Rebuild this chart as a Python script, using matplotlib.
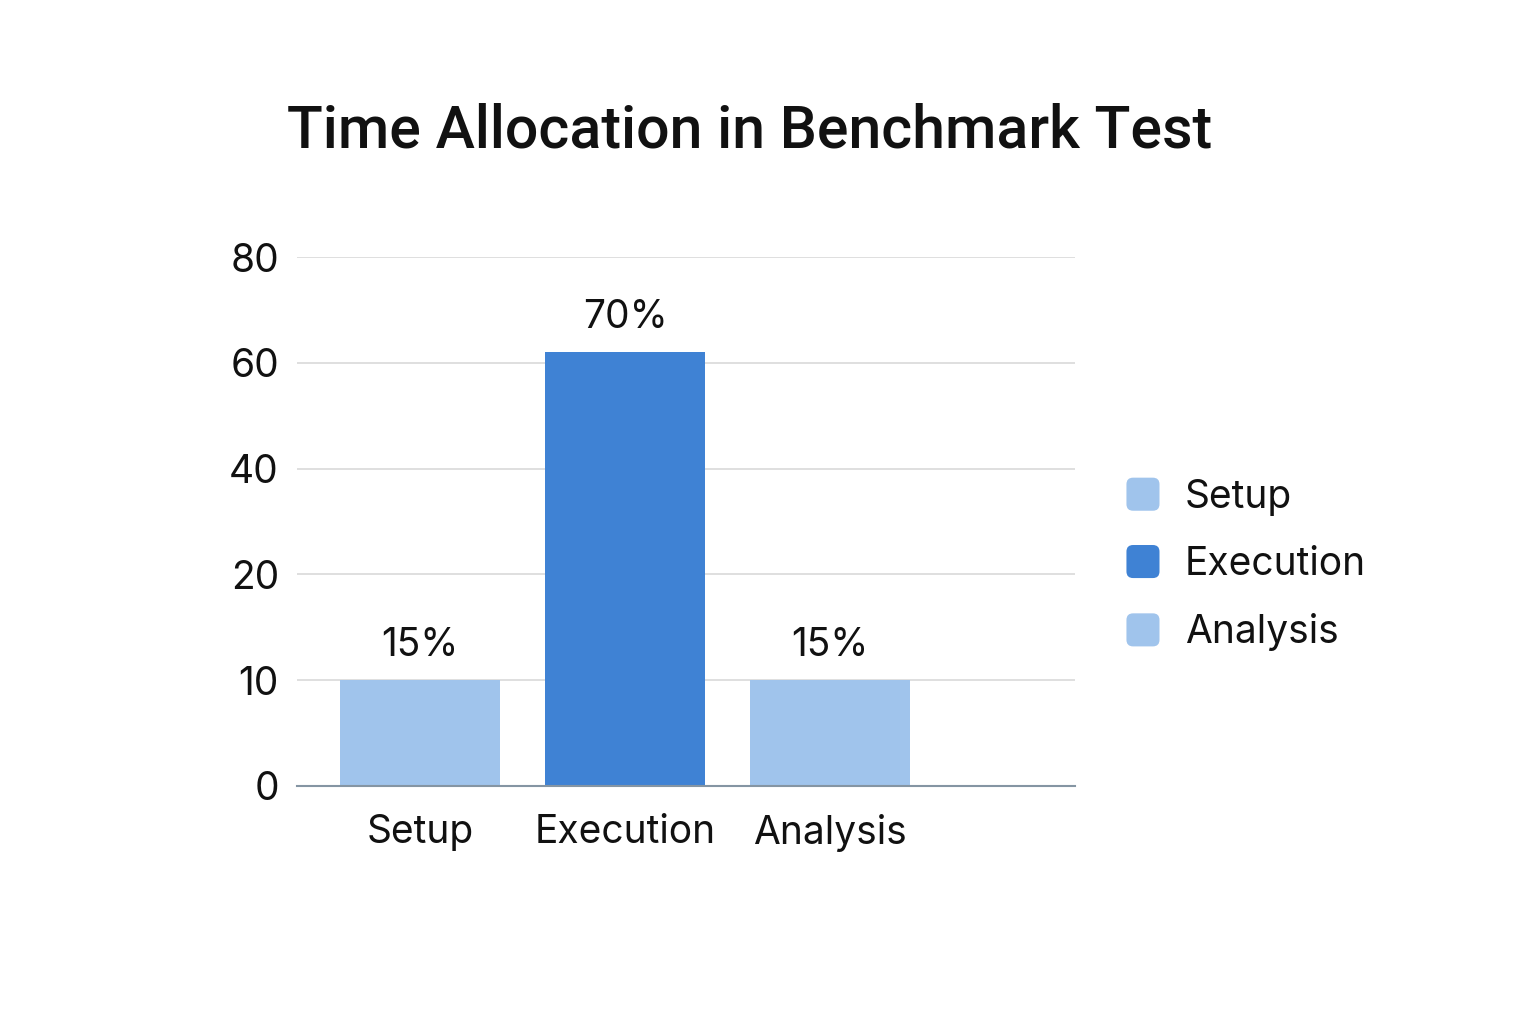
import numpy as np
import matplotlib
matplotlib.use("Agg")
import matplotlib.pyplot as plt
from matplotlib.patches import FancyBboxPatch, Patch
from matplotlib.legend_handler import HandlerPatch

categories = ["Setup", "Execution", "Analysis"]
values = [10, 62, 10]
bar_labels = ["15%", "70%", "15%"]
tick_values = [0, 10, 20, 40, 60, 80]
tick_labels = ["0", "10", "20", "40", "60", "80"]
title = "Time Allocation in Benchmark Test"

light = "#A0C4EC"
dark = "#3F82D4"
colors = [light, dark, light]

plt.rcParams['font.family'] = ['Inter', 'DejaVu Sans']

fig = plt.figure(figsize=(15.36, 10.24), dpi=100)
ax = fig.add_axes([297/1536, 1-786/1024, 778/1536, 529/1024])

pos = np.arange(len(tick_values), dtype=float)
def fwd(v):
    return np.interp(v, tick_values, pos)
def inv(p):
    return np.interp(p, pos, tick_values)
ax.set_yscale('function', functions=(fwd, inv))

x = np.arange(len(categories))
bars = ax.bar(x, values, width=0.785, color=colors, zorder=3)
for xi, v, lab in zip(x, values, bar_labels):
    ax.annotate(lab, (xi, v), xytext=(0, 11.5), textcoords='offset points',
                ha='center', va='bottom', fontsize=28, color='#111111')

ax.set_ylim(0, 80)
ax.set_xlim(-0.6, 3.195)
ax.set_yticks(tick_values)
ax.set_yticklabels(tick_labels)
ax.yaxis.set_minor_locator(matplotlib.ticker.NullLocator())
ax.set_xticks(x)
ax.set_xticklabels(categories)
ax.tick_params(axis='both', length=0, labelsize=28, colors='#111111')
ax.tick_params(axis='y', pad=13)
ax.tick_params(axis='x', pad=20)
ax.grid(axis='y', color='#d9d9d9', linewidth=1.2, zorder=0)
for s in ['left', 'right', 'top']:
    ax.spines[s].set_visible(False)
ax.spines['bottom'].set_color('#8595a3')
ax.spines['bottom'].set_linewidth(1.5)
ax.spines['bottom'].set_zorder(4)

fig.text(0.488, 0.872, title, ha='center', va='center', fontsize=42.5,
         fontweight='medium', color='#111111', family=['Roboto', 'DejaVu Sans'])

class RoundHandler(HandlerPatch):
    def create_artists(self, legend, orig_handle, xdescent, ydescent,
                       width, height, fontsize, trans):
        s = min(width, height * 1.2)
        p = FancyBboxPatch((-xdescent, -ydescent + (height - s) / 2), s, s,
                           boxstyle="round,pad=0,rounding_size=%f" % (s * 0.2),
                           facecolor=orig_handle.get_facecolor(),
                           edgecolor='none', transform=trans)
        return [p]

handles = [Patch(facecolor=c, label=l) for c, l in zip(colors, categories)]
leg = fig.legend(handles=handles, loc='center left',
                 bbox_to_anchor=(1107/1536, 1-565/1024), frameon=False,
                 fontsize=28, handlelength=0.85, handleheight=0.85,
                 handletextpad=0.65, labelspacing=0.78, borderpad=0,
                 handler_map={Patch: RoundHandler()})
for t in leg.get_texts():
    t.set_color('#111111')

fig.savefig("out.png", dpi=100, facecolor='white')
